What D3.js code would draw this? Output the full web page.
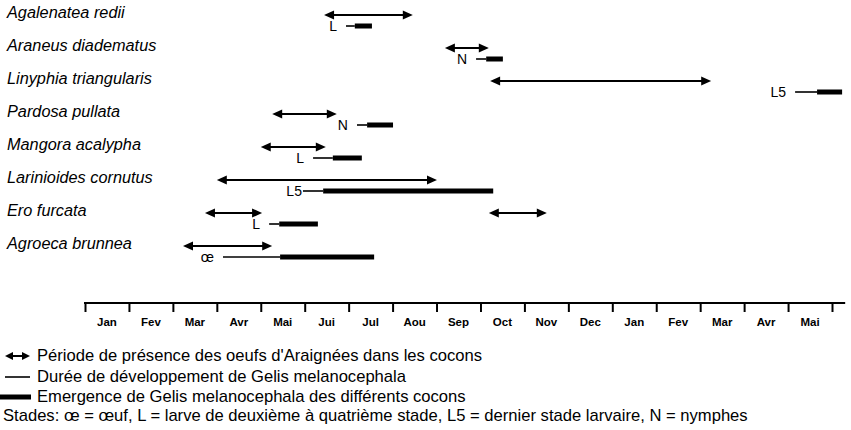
<!DOCTYPE html>
<html><head><meta charset="utf-8">
<script src="https://cdn.jsdelivr.net/npm/d3@7"></script>
<style>
body{margin:0;background:#fff;}
svg{display:block;font-family:"Liberation Sans",Arial,Helvetica,sans-serif;}
</style></head>
<body>
<svg id="chart" width="851" height="430"></svg>
<script>
// ---- data (months from start of January, year 1) ----
const species = ["Agalenatea redii","Araneus diadematus","Linyphia triangularis","Pardosa pullata","Mangora acalypha","Larinioides cornutus","Ero furcata","Agroeca brunnea"];
const eggStart = [5.44, 8.19, 9.22, 4.26, 4.00, 3.00, 2.73, 2.23];
const eggEnd   = [7.46, 9.19, 14.25, 5.73, 5.48, 8.01, 4.03, 4.26];
const extraEggSpecies = ["Ero furcata"];
const extraEggStart = [9.19];
const extraEggEnd = [10.51];
const devStart     = [5.94, 8.90, 16.16, 6.19, 5.19, 4.96, 4.19, 3.14];
const emergeStart  = [6.14, 9.13, 16.66, 6.42, 5.64, 5.42, 4.42, 4.44];
const emergeEnd    = [6.53, 9.51, 17.23, 7.01, 6.30, 9.29, 5.30, 6.58];
const stages = ["L","N","L5","N","L","L5","L","œ"];
const months = ["Jan","Fev","Mar","Avr","Mai","Jui","Jul","Aou","Sep","Oct","Nov","Dec","Jan","Fev","Mar","Avr","Mai"];
const legendTexts = [
  "Période de présence des oeufs d'Araignées dans les cocons",
  "Durée de développement de Gelis melanocephala",
  "Emergence de Gelis melanocephala  des différents cocons",
  "Stades: œ = œuf, L = larve de deuxième à quatrième stade, L5 = dernier stade larvaire, N = nymphes"
];

const svg = d3.select("#chart");
const x = d3.scaleLinear().domain([0, 17]).range([85, 832]);
const y = d3.scalePoint().domain(species).range([15, 246]);

// arrows
function drawArrow(g, x1, x2, yy, head, hh, sw){
  g.append("line").attr("x1", x1 + head - 1).attr("x2", x2 - head + 1)
    .attr("y1", yy).attr("y2", yy).attr("stroke", "#000").attr("stroke-width", sw);
  g.append("path").attr("d", `M${x1},${yy}L${x1+head},${yy-hh}L${x1+head},${yy+hh}Z`).attr("fill", "#000");
  g.append("path").attr("d", `M${x2},${yy}L${x2-head},${yy-hh}L${x2-head},${yy+hh}Z`).attr("fill", "#000");
}

const plot = svg.append("g");
// species labels
plot.selectAll("text.sp").data(species).join("text")
  .attr("class","sp").attr("x", 7).attr("y", d => y(d) + 3)
  .attr("font-size", 16.3).attr("font-style","italic").text(d => d);

species.forEach((s, i) => {
  const yy = y(s);
  drawArrow(plot, x(eggStart[i]), x(eggEnd[i]), yy, 10, 4.5, 2);
  const by = yy + 11;
  plot.append("line").attr("x1", x(devStart[i])).attr("x2", x(emergeStart[i]))
    .attr("y1", by).attr("y2", by).attr("stroke", "#000").attr("stroke-width", 1.6);
  plot.append("rect").attr("x", x(emergeStart[i])).attr("width", x(emergeEnd[i]) - x(emergeStart[i]))
    .attr("y", by - 2.5).attr("height", 5).attr("fill", "#000");
  plot.append("text").attr("x", x(devStart[i]) - (stages[i] === "L5" && s === "Larinioides cornutus" ? 1 : 9))
    .attr("y", by + 5).attr("text-anchor", "end").attr("font-size", 14).text(stages[i]);
});
extraEggSpecies.forEach((s, j) => {
  drawArrow(plot, x(extraEggStart[j]), x(extraEggEnd[j]), y(s), 10, 4.5, 2);
});

// axis
const axisY = 303;
const axisG = svg.append("g").attr("transform", `translate(0,${axisY})`)
  .call(d3.axisBottom(x).tickValues(d3.range(0, 18)).tickSize(9).tickSizeOuter(0).tickFormat(""));
axisG.select(".domain").remove();
axisG.selectAll(".tick line").attr("stroke", "#000").attr("stroke-width", 2);
svg.append("line").attr("x1", x(0) - 1).attr("x2", x(17.3)).attr("y1", axisY).attr("y2", axisY)
  .attr("stroke", "#000").attr("stroke-width", 2);
svg.append("g").selectAll("text").data(months).join("text")
  .attr("x", (d, i) => x(i + 0.5)).attr("y", 326).attr("text-anchor", "middle")
  .attr("font-size", 11.5).attr("font-weight", "bold").text(d => d);

// legend
const lg = svg.append("g");
const ly = [356, 377, 397, 416];
drawArrow(lg, 5, 30, ly[0], 8, 4, 2);
lg.append("line").attr("x1", 5).attr("x2", 30).attr("y1", ly[1]).attr("y2", ly[1]).attr("stroke", "#000").attr("stroke-width", 1.6);
lg.append("rect").attr("x", 0).attr("y", ly[2] - 2.5).attr("width", 31).attr("height", 5).attr("fill", "#000");
lg.selectAll("text").data(legendTexts).join("text")
  .attr("x", (d, i) => i < 3 ? 37 : 3).attr("y", (d, i) => ly[i] + 5)
  .attr("font-size", 16.6).text(d => d);
</script>
</body></html>
